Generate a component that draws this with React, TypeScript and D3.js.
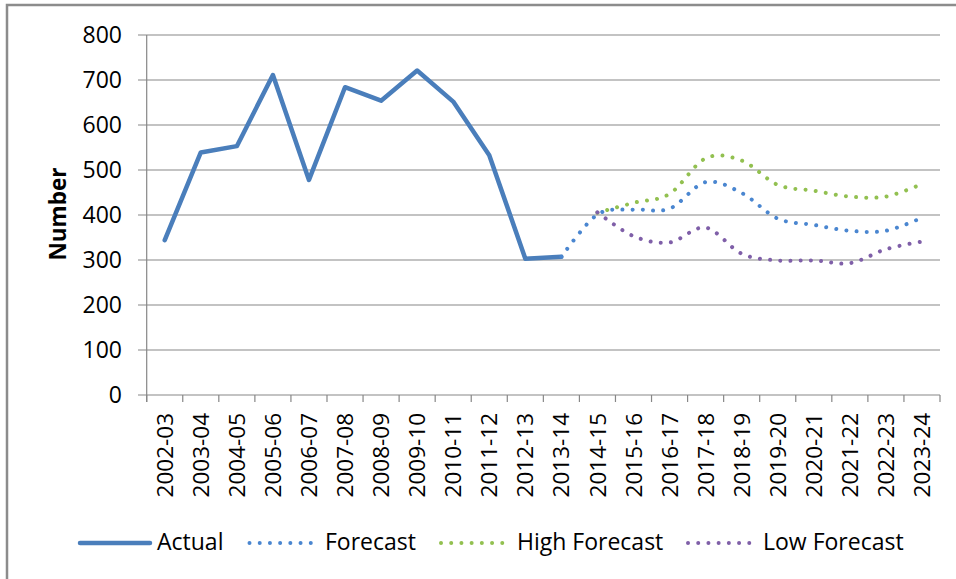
import React from 'react';
import * as d3 from 'd3';

const categories = [
  '2002-03', '2003-04', '2004-05', '2005-06', '2006-07', '2007-08', '2008-09', '2009-10',
  '2010-11', '2011-12', '2012-13', '2013-14', '2014-15', '2015-16', '2016-17', '2017-18',
  '2018-19', '2019-20', '2020-21', '2021-22', '2022-23', '2023-24',
];
const N = null;
const actual = [344, 539, 553, 711, 478, 684, 654, 721, 652, 533, 303, 307, N, N, N, N, N, N, N, N, N, N];
const forecast = [N, N, N, N, N, N, N, N, N, N, N, 307, 401, 412, 414, 473, 449, 392, 378, 365, 365, 394];
const highForecast = [N, N, N, N, N, N, N, N, N, N, N, N, 405, 427, 447, 526, 521, 467, 454, 441, 441, 469];
const lowForecast = [N, N, N, N, N, N, N, N, N, N, N, N, 406, 353, 339, 372, 314, 299, 299, 293, 324, 341];
const yTicks = [0, 100, 200, 300, 400, 500, 600, 700, 800];

const W = 956;
const H = 579;
const FONT = "'Open Sans', 'Noto Sans', sans-serif";
const GRID = '#878787';

const plot = { left: 146.7, right: 940, top: 35, bottom: 395 };

const x = d3.scaleBand<string>().domain(categories).range([plot.left, plot.right]).padding(0);
const y = d3.scaleLinear().domain([0, 800]).range([plot.bottom, plot.top]);
const cx = (i: number) => (x(categories[i]) as number) + x.bandwidth() / 2;

type Pt = { i: number; v: number };
const pts = (arr: (number | null)[]): Pt[] =>
  arr.map((v, i) => ({ i, v: v as number })).filter((p) => p.v !== null && p.v !== undefined);

const straight = d3.line<Pt>().x((p) => cx(p.i)).y((p) => y(p.v));
const smooth = d3
  .line<Pt>()
  .x((p) => cx(p.i))
  .y((p) => y(p.v))
  .curve(d3.curveCardinal.tension(0));

const series = [
  { name: 'Actual', data: actual, color: '#4a7ebb', dotted: false },
  { name: 'Forecast', data: forecast, color: '#4a86d0', dotted: true },
  { name: 'High Forecast', data: highForecast, color: '#92c050', dotted: true },
  { name: 'Low Forecast', data: lowForecast, color: '#7f5fa8', dotted: true },
];

const legendLayout = [
  { x0: 80, x1: 150, tx: 157 },
  { x0: 249.5, x1: 311, tx: 325 },
  { x0: 441, x1: 503, tx: 517 },
  { x0: 688, x1: 750, tx: 763 },
];

export default function App() {
  const tickEdges = d3.range(categories.length + 1).map((k) => plot.left + k * x.bandwidth());
  return (
    <svg width={W} height={H} style={{ position: 'absolute', left: 0, top: 0, background: '#fff' }}>
      <rect x={0} y={0} width={W} height={H} fill="#fff" />
      {/* chart border (clipped at right/bottom) */}
      <rect x={7} y={5} width={W + 20} height={H + 20} fill="none" stroke="#8c8c8c" strokeWidth={2.5} />

      {/* gridlines */}
      {yTicks.map((t) => (
        <line key={t} x1={138} x2={plot.right} y1={y(t)} y2={y(t)} stroke={GRID} strokeWidth={1.2} />
      ))}
      {/* y axis */}
      <line x1={plot.left} x2={plot.left} y1={plot.top} y2={plot.bottom + 7} stroke={GRID} strokeWidth={1.2} />
      {/* x tick marks */}
      {tickEdges.map((tx, k) => (
        <line key={k} x1={tx} x2={tx} y1={plot.bottom} y2={plot.bottom + 7} stroke={GRID} strokeWidth={1.2} />
      ))}

      {/* y tick labels */}
      {yTicks.map((t) => (
        <text key={t} x={122} y={y(t)} dy="0.36em" textAnchor="end" fontFamily={FONT} fontSize={23} fill="#000">
          {t}
        </text>
      ))}

      {/* x tick labels */}
      {categories.map((c, i) => (
        <text
          key={c}
          transform={`translate(${cx(i)},413) rotate(-90)`}
          dy="0.36em"
          textAnchor="end"
          fontFamily={FONT}
          fontSize={22.5}
          fill="#000"
        >
          {c}
        </text>
      ))}

      {/* y axis title */}
      <text
        transform={`translate(58,214) rotate(-90)`}
        dy="0.36em"
        textAnchor="middle"
        fontFamily={FONT}
        fontSize={22.5}
        fontWeight="bold"
        fill="#000"
      >
        Number
      </text>

      {/* series */}
      {series.map((s) => (
        <path
          key={s.name}
          d={(s.dotted ? smooth : straight)(pts(s.data)) || ''}
          fill="none"
          stroke={s.color}
          strokeWidth={s.dotted ? 4 : 4.5}
          strokeLinecap="round"
          strokeLinejoin="round"
          strokeDasharray={s.dotted ? '0.01 10.2' : undefined}
        />
      ))}

      {/* legend */}
      {series.map((s, k) => {
        const L = legendLayout[k];
        return (
          <g key={s.name}>
            <line
              x1={L.x0}
              x2={L.x1}
              y1={543}
              y2={543}
              stroke={s.color}
              strokeWidth={s.dotted ? 4 : 4.5}
              strokeLinecap="round"
              strokeDasharray={s.dotted ? '0.01 10.2' : undefined}
            />
            <text x={L.tx} y={550} fontFamily={FONT} fontSize={23} fill="#000">
              {s.name}
            </text>
          </g>
        );
      })}
    </svg>
  );
}
